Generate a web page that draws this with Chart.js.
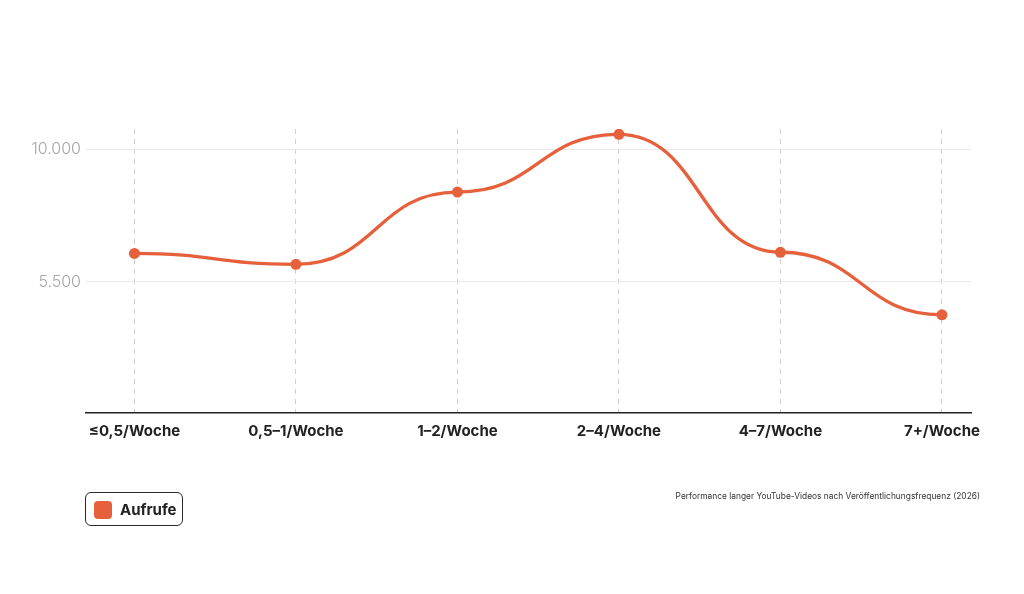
<!DOCTYPE html>
<html>
<head>
<meta charset="utf-8">
<script src="https://cdn.jsdelivr.net/npm/chart.js@4"></script>
<style>
  body { margin: 0; background: #fff; font-family: Inter, "Noto Sans", sans-serif; }
  #wrap { position: relative; width: 1024px; height: 594px; }
  #legende {
    position: absolute; left: 85px; top: 492px; width: 96px; height: 32px;
    border: 1.5px solid #2a2a2a; border-radius: 6px; box-sizing: content-box;
  }
  #legende .box {
    position: absolute; left: 8px; top: 8px; width: 18px; height: 18px;
    border-radius: 4px; background: #e5603b;
  }
  #legende .txt {
    position: absolute; left: 34px; top: 7px; font-size: 15px; font-weight: 700; color: #222;
  }
  #quelle {
    position: absolute; right: 44px; top: 491px; font-size: 8.4px; color: #333;
  }
</style>
</head>
<body>
<div id="wrap">
  <canvas id="meuGrafico" width="1024" height="594"></canvas>
  <div id="legende"><div class="box"></div><div class="txt">Aufrufe</div></div>
  <div id="quelle">Performance langer YouTube-Videos nach Veröffentlichungsfrequenz (2026)</div>
</div>
<script>
const kategorien = ['≤0,5/Woche', '0,5–1/Woche', '1–2/Woche', '2–4/Woche', '4–7/Woche', '7+/Woche'];
const aufrufe = [6460, 6090, 8540, 10500, 6500, 4380];
const yTicks = [5500, 10000];

const farbe = '#e5603b';

// Kurve wie d3 curveBumpX: waagerechte Tangenten an jedem Punkt
const bumpKurve = {
  id: 'bumpKurve',
  beforeDatasetDraw(chart, args) {
    const meta = args.meta;
    const pts = meta.data;
    for (let i = 0; i < pts.length; i++) {
      const p = pts[i];
      const prev = pts[i - 1] || p;
      const next = pts[i + 1] || p;
      p.cp1x = (prev.x + p.x) / 2;
      p.cp1y = p.y;
      p.cp2x = (p.x + next.x) / 2;
      p.cp2y = p.y;
    }
    if (meta.dataset) meta.dataset._pointsUpdated = true;
  }
};

const punkte = kategorien.map((k, i) => ({ x: i, y: aufrufe[i] }));

var configuracao = {
  type: 'line',
  data: {
    datasets: [{
      label: 'Aufrufe',
      data: punkte,
      borderColor: farbe,
      backgroundColor: farbe,
      borderWidth: 3.3,
      pointRadius: 5.5,
      pointHoverRadius: 5.5,
      pointBorderWidth: 0,
      tension: 0.4
    }]
  },
  options: {
    responsive: false,
    animation: false,
    layout: { padding: { left: 0, right: 53, top: 129, bottom: 141 } },
    plugins: { legend: { display: false }, tooltip: { enabled: false } },
    scales: {
      x: {
        type: 'linear',
        min: -0.3,
        max: 5.18,
        afterBuildTicks(scale) { scale.ticks = kategorien.map((k, i) => ({ value: i })); },
        afterFit(scale) { scale.height = 40; },
        ticks: {
          callback: (v) => kategorien[v],
          color: '#222',
          font: { family: 'Inter', size: 15, weight: '700' },
          padding: 9,
          maxRotation: 0,
          autoSkip: false
        },
        grid: { color: '#cfcfcf', lineWidth: 1, drawTicks: false },
        border: { display: true, color: '#222', width: 1.5, dash: [5, 5] }
      },
      y: {
        min: 1050,
        max: 10680,
        afterBuildTicks(scale) { scale.ticks = yTicks.map(v => ({ value: v })); },
        afterFit(scale) { scale.width = 86; },
        ticks: {
          callback: (v) => v.toLocaleString('de-DE'),
          color: '#a5a5a5',
          font: { family: 'Inter', size: 16, weight: '300' },
          padding: 5
        },
        grid: { color: '#e9e9e9', lineWidth: 1, drawTicks: false },
        border: { display: false }
      }
    }
  },
  plugins: [bumpKurve]
};

var meuGrafico = new Chart(document.getElementById('meuGrafico'), configuracao);
</script>
</body>
</html>
